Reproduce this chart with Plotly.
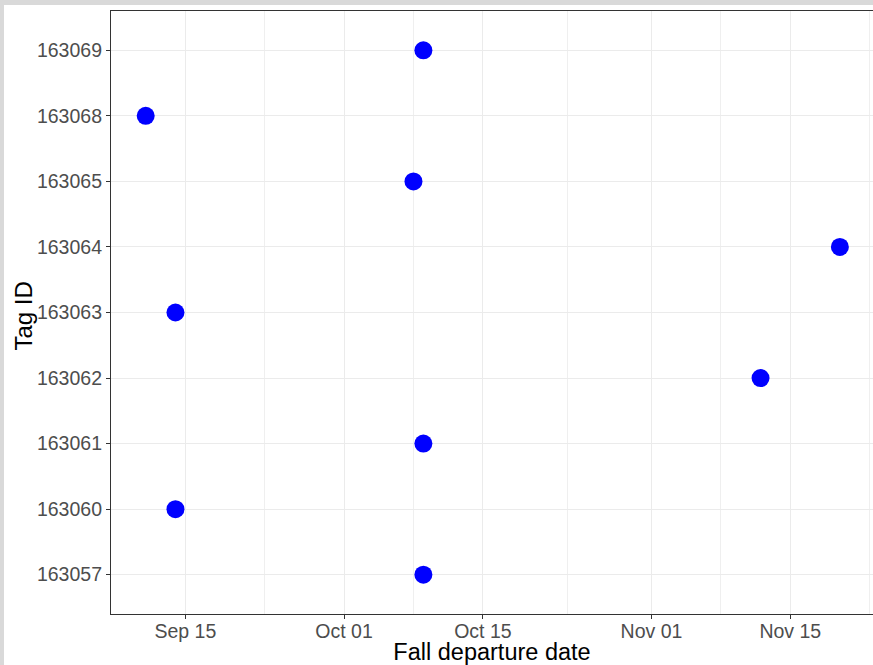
import plotly.graph_objects as go

# ---- data ----
tag_order = ["163057", "163060", "163061", "163062", "163063",
             "163064", "163065", "163068", "163069"]
tag_ids = ["163069", "163068", "163065", "163064", "163063",
           "163062", "163061", "163060", "163057"]
departure_dates = ["2021-10-09", "2021-09-11", "2021-10-08", "2021-11-20", "2021-09-14",
                   "2021-11-12", "2021-10-09", "2021-09-14", "2021-10-09"]
major_ticks = ["2021-09-15", "2021-10-01", "2021-10-15", "2021-11-01", "2021-11-15"]
major_labels = ["Sep 15", "Oct 01", "Oct 15", "Nov 01", "Nov 15"]
minor_ticks = ["2021-09-23", "2021-10-08", "2021-10-23 12:00", "2021-11-08", "2021-11-23"]

W, H = 873, 665
L, R, T, B = 111, 0, 11, 51
FONT = "Liberation Sans, Arial, sans-serif"

fig = go.Figure()
fig.add_trace(go.Scatter(
    x=departure_dates, y=tag_ids, mode="markers",
    marker=dict(color="#0000FF", size=18, line=dict(width=0)),
    showlegend=False, hoverinfo="x+y",
))

pw = W - L - R
ph = H - T - B
# white page over gray screenshot frame
fig.add_shape(type="rect", xref="paper", yref="paper", layer="below",
              x0=(4 - L) / pw, x1=1.02, y0=-0.2, y1=(H - B - 5) / ph,
              fillcolor="white", line=dict(width=0))

# y-axis title as annotation for precise placement
fig.add_annotation(text="Tag ID", xref="paper", yref="paper",
                   x=(22.5 - L) / pw, y=(H - B - 316) / ph,
                   xanchor="center", yanchor="middle", textangle=-90,
                   showarrow=False, font=dict(size=24, color="black", family=FONT))

fig.update_layout(
    width=W, height=H,
    margin=dict(l=L, r=R, t=T, b=B, pad=0),
    paper_bgcolor="#D9D9D9",
    plot_bgcolor="white",
    font=dict(family=FONT, color="#4D4D4D"),
    xaxis=dict(
        type="date",
        range=["2021-09-07 12:00", "2021-11-23 08:10"],
        tickmode="array", tickvals=major_ticks, ticktext=major_labels,
        tickfont=dict(size=19.5, color="#4D4D4D"),
        ticks="outside", ticklen=4, tickwidth=1, tickcolor="#333333",
        ticklabelstandoff=-5,
        showgrid=True, gridcolor="#EBEBEB", gridwidth=1,
        minor=dict(tickmode="array", tickvals=minor_ticks, showgrid=True,
                   gridcolor="#EFEFEF", gridwidth=0.7, ticks=""),
        showline=True, linecolor="#333333", linewidth=1.2, mirror=True,
        zeroline=False,
        title=dict(text="Fall departure date", font=dict(size=23.5, color="black"), standoff=3),
    ),
    yaxis=dict(
        type="category", categoryorder="array", categoryarray=tag_order,
        range=[-0.6, 8.6],
        tickfont=dict(size=19.5, color="#4D4D4D"),
        ticks="outside", ticklen=4, tickwidth=1, tickcolor="#333333",
        showgrid=True, gridcolor="#EBEBEB", gridwidth=1,
        showline=True, linecolor="#333333", linewidth=1.2, mirror=False,
        zeroline=False,
    ),
)

fig.write_html(
    "out.html",
    config={"displayModeBar": False},
    post_script="document.body.style.margin='0';document.body.style.overflow='hidden';",
)
